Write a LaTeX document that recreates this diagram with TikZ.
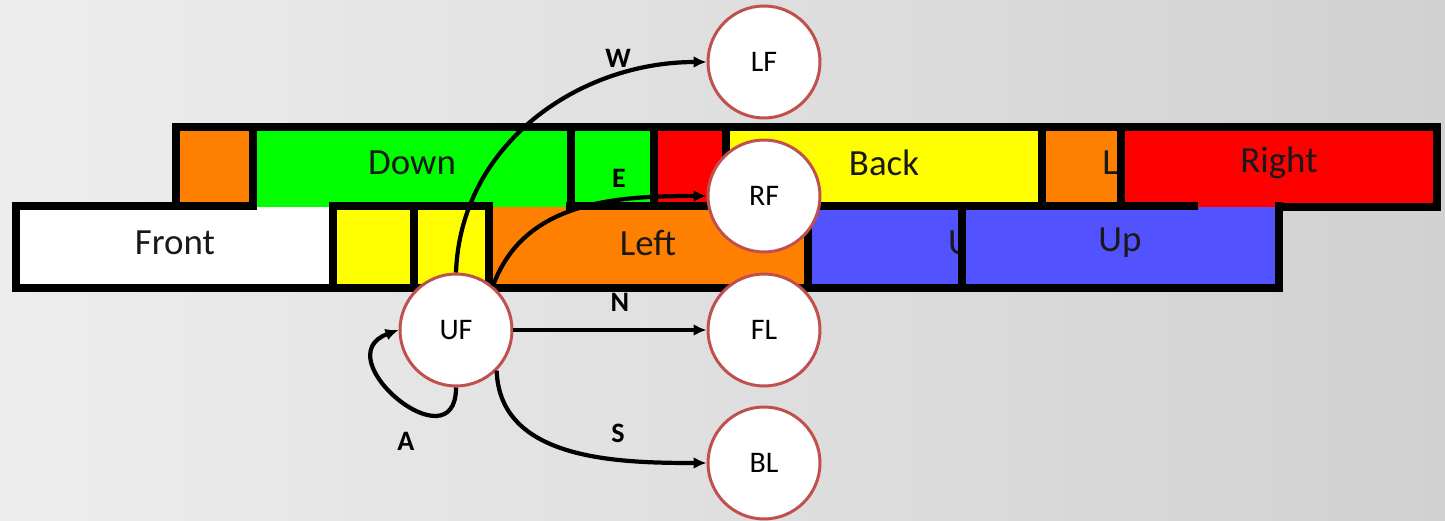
\documentclass[tikz,border=0pt]{standalone}
\usepackage{fontspec}
\setmainfont{Carlito}
\usetikzlibrary{arrows.meta,positioning}
\definecolor{FaceOrange}{RGB}{255,128,0}
\definecolor{FaceGreen}{RGB}{0,255,0}
\definecolor{FaceRed}{RGB}{255,0,0}
\definecolor{FaceYellow}{RGB}{255,255,0}
\definecolor{FaceBlue}{RGB}{82,82,255}
\definecolor{StateRed}{RGB}{192,80,77}

\begin{document}
\begin{tikzpicture}[x=0.02cm, y=0.02cm,
    face/.style={draw=black, line width=4pt},
    facelabel/.style={font=\fontsize{21}{25}\selectfont, text=black!90, inner sep=0pt},
    state/.style={circle, draw=StateRed, line width=1.7pt, fill=white, minimum size=2.24cm, inner sep=0pt, font=\fontsize{17}{19}\selectfont},
    move/.style={-{Latex[length=2.6mm, width=2.4mm]}, line width=2.4pt},
    lbl/.style={font=\fontsize{16}{18}\selectfont\bfseries, inner sep=0pt}
  ]
    \shade[left color=black!7, right color=black!18] (0,0) rectangle (1445,521);

    % upper row of faces
    \draw[face, fill=FaceOrange] (176,394) rectangle (253,315);
    \draw[face, fill=FaceGreen] (253,394) rectangle (571,315);
    \node[facelabel] (down) at (412,358) {Down};
    \draw[face, fill=FaceGreen] (571,394) rectangle (654,315);
    \draw[face, fill=FaceRed] (654,394) rectangle (726,315);
    \draw[face, fill=FaceYellow] (726,394) rectangle (1042,315);
    \node[facelabel] (back) at (884,358) {Back};
    \draw[face, fill=FaceOrange] (1042,394) rectangle (1121,315);
    \node[facelabel] (l) at (1110,358) {L};
    \draw[face, fill=FaceRed] (1121,394) rectangle (1437,314);
    \node[facelabel] (right) at (1279,358) {Right};

    % lower row of faces
    \draw[face, fill=white] (16,315) rectangle (333,233);
    \node[facelabel] (front) at (175,278) {Front};
    \draw[face, fill=FaceYellow] (333,315) rectangle (414,233);
    \draw[face, fill=FaceYellow] (414,315) rectangle (489,233);
    \draw[face, fill=FaceOrange] (489,315) rectangle (808,233);
    \node[facelabel] (left) at (648,278) {Left};
    \draw[face, fill=FaceBlue] (808,315) rectangle (962,233);
    \node[facelabel] (u) at (960,278) {U};
    \draw[face, fill=FaceBlue] (962,315) rectangle (1279,233);
    \node[facelabel] (up) at (1120,278) {Up};

    % open seams
    \fill[FaceGreen] (257,320) rectangle (329,314);
    \fill[white] (257,314) rectangle (329,310);
    \fill[FaceGreen] (493,320) rectangle (566,314);
    \fill[FaceOrange] (493,314) rectangle (566,310);
    \fill[FaceRed] (1198,320) rectangle (1275,314);
    \fill[FaceBlue] (1198,314) rectangle (1275,310);

    % states
    \node[state] (UF) at (456,191) {UF};
    \node[state] (LF) at (764,459) {LF};
    \node[state] (RF) at (764,325) {RF};
    \node[state] (FL) at (764,191) {FL};
    \node[state] (BL) at (764,58) {BL};

    \draw[move] (UF.north) to[out=88, in=180] (LF.west);
    \draw[move] (UF.50) to[out=70, in=180] (RF.west);
    \draw[move] (UF.east) -- (FL.west);
    \draw[move] (UF.-45) to[out=-88, in=180] (BL.west);
    \draw[move] (UF.south) to[out=-90, in=200, looseness=2.5] (UF.west);

    \node[lbl] (w) at (618,463) {W};
    \node[lbl] (e) at (619,343) {E};
    \node[lbl] (n) at (620,219) {N};
    \node[lbl] (s) at (618,88) {S};
    \node[lbl] (a) at (406,80) {A};
\end{tikzpicture}
\end{document}
